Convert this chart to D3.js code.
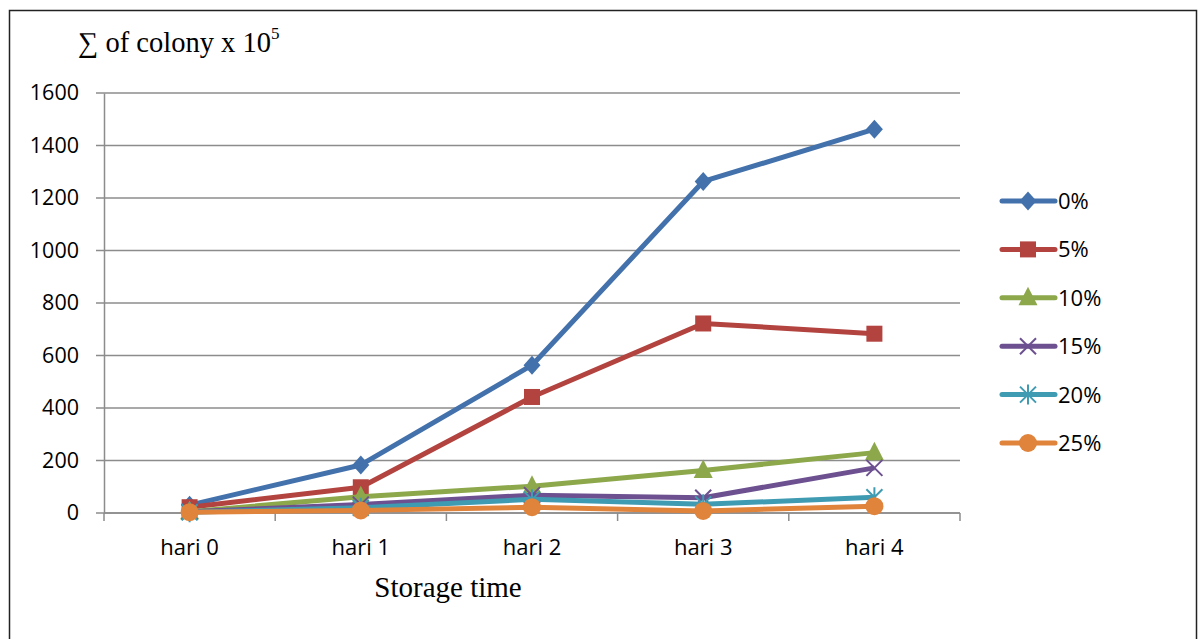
<!DOCTYPE html>
<html>
<head>
<meta charset="utf-8">
<script src="https://cdn.jsdelivr.net/npm/d3@7"></script>
<style>
  body { margin: 0; background: #fff; }
</style>
</head>
<body>
<svg id="chart" width="1200" height="639"></svg>
<script>
// chart data
const days = ["hari 0", "hari 1", "hari 2", "hari 3", "hari 4"];
const seriesNames = ["0%", "5%", "10%", "15%", "20%", "25%"];
const s0 = [30, 183, 563, 1263, 1462];
const s5 = [22, 98, 442, 722, 683];
const s10 = [5, 62, 102, 162, 230];
const s15 = [5, 32, 68, 58, 172];
const s20 = [3, 20, 52, 33, 60];
const s25 = [3, 10, 22, 8, 26];
const yTicks = [0, 200, 400, 600, 800, 1000, 1200, 1400, 1600];

const seriesValues = [s0, s5, s10, s15, s20, s25];
const colors = ["#4371ab", "#b2433f", "#8ca84b", "#6c5090", "#3f9bb2", "#e0833b"];
const shapes = ["diamond", "square", "triangle", "x", "star", "circle"];

const svg = d3.select("#chart");
const margin = { left: 104, right: 240, top: 93, bottom: 126 };
const plotW = 960 - margin.left;
const plotH = 513 - margin.top;
const labelFont = "'Open Sans', sans-serif";

// outer frame
svg.append("rect")
    .attr("x", 9.5).attr("y", 10.5)
    .attr("width", 1187).attr("height", 640)
    .attr("fill", "none")
    .attr("stroke", "#222")
    .attr("stroke-width", 1.5);

const g = svg.append("g").attr("transform", `translate(${margin.left},${margin.top})`);

const x = d3.scaleBand().domain(days).range([0, plotW]);
const y = d3.scaleLinear().domain([0, 1600]).range([plotH, 0]);

// gridlines (with the little tick stub left of the axis)
g.append("g")
    .selectAll("line")
    .data(yTicks)
    .join("line")
    .attr("x1", -8).attr("x2", plotW)
    .attr("y1", d => y(d)).attr("y2", d => y(d))
    .attr("stroke", "#8c8c8c")
    .attr("stroke-width", 1.5);

// y axis
const yAxis = g.append("g")
    .call(d3.axisLeft(y).tickValues(yTicks).tickFormat(d3.format("d")).tickSize(0).tickPadding(25))
    .call(a => a.select(".domain").attr("stroke", "#8c8c8c").attr("stroke-width", 1.5));
yAxis.selectAll("text")
    .attr("font-family", labelFont)
    .attr("font-size", 21.5)
    .attr("fill", "#000");

// x axis with tick marks between categories
const xAxis = g.append("g").attr("transform", `translate(0,${plotH})`);
xAxis.append("line")
    .attr("x1", 0).attr("x2", plotW)
    .attr("stroke", "#8c8c8c").attr("stroke-width", 1.5);
xAxis.selectAll(".tk")
    .data(d3.range(days.length + 1))
    .join("line")
    .attr("class", "tk")
    .attr("x1", i => i * x.bandwidth()).attr("x2", i => i * x.bandwidth())
    .attr("y1", 0).attr("y2", 8)
    .attr("stroke", "#8c8c8c").attr("stroke-width", 1.5);
xAxis.selectAll("text")
    .data(days)
    .join("text")
    .attr("x", d => x(d) + x.bandwidth() / 2)
    .attr("y", 42)
    .attr("text-anchor", "middle")
    .attr("font-family", labelFont)
    .attr("font-size", 22)
    .text(d => d);

// axis titles
const yTitle = svg.append("text")
    .attr("x", 78).attr("y", 52)
    .attr("font-family", "'Liberation Serif', serif")
    .attr("font-size", 28.5);
yTitle.append("tspan").text("∑ of colony x 10");
yTitle.append("tspan").attr("font-size", 17).attr("dy", -13).text("5");

svg.append("text")
    .attr("x", 448).attr("y", 597)
    .attr("text-anchor", "middle")
    .attr("font-family", "'Liberation Serif', serif")
    .attr("font-size", 29)
    .text("Storage time");

// marker drawing
function drawMarker(sel, shape, color) {
    if (shape === "diamond") {
        sel.append("path").attr("d", "M0,-9.5L8.5,0L0,9.5L-8.5,0Z").attr("fill", color);
    } else if (shape === "square") {
        sel.append("rect").attr("x", -8).attr("y", -8).attr("width", 16).attr("height", 16).attr("fill", color);
    } else if (shape === "triangle") {
        sel.append("path").attr("d", "M0,-11L9.5,7.5L-9.5,7.5Z").attr("fill", color);
    } else if (shape === "circle") {
        sel.append("circle").attr("r", 9).attr("fill", color);
    } else if (shape === "x") {
        sel.append("path").attr("d", "M-8,-8L8,8M-8,8L8,-8")
            .attr("stroke", color).attr("stroke-width", 2).attr("fill", "none");
    } else if (shape === "star") {
        sel.append("path").attr("d", "M-8,-8L8,8M-8,8L8,-8M0,-10L0,10")
            .attr("stroke", color).attr("stroke-width", 2).attr("fill", "none");
    }
}

const line = d3.line()
    .x((d, i) => x(days[i]) + x.bandwidth() / 2)
    .y(d => y(d));

seriesValues.forEach((vals, k) => {
    g.append("path")
        .datum(vals)
        .attr("d", line)
        .attr("fill", "none")
        .attr("stroke", colors[k])
        .attr("stroke-width", 5)
        .attr("stroke-linejoin", "round");
    vals.forEach((v, i) => {
        const m = g.append("g")
            .attr("transform", `translate(${x(days[i]) + x.bandwidth() / 2},${y(v)})`);
        drawMarker(m, shapes[k], colors[k]);
    });
});

// legend
const legend = svg.append("g").attr("transform", "translate(1000,201)");
seriesNames.forEach((name, k) => {
    const row = legend.append("g").attr("transform", `translate(0,${k * 48.4})`);
    row.append("line")
        .attr("x1", 2).attr("x2", 55)
        .attr("stroke", colors[k]).attr("stroke-width", 5)
        .attr("stroke-linecap", "round");
    const m = row.append("g").attr("transform", "translate(28,0)");
    drawMarker(m, shapes[k], colors[k]);
    row.append("text")
        .attr("x", 58).attr("y", 8)
        .attr("font-family", labelFont)
        .attr("font-size", 22)
        .text(name);
});
</script>
</body>
</html>
